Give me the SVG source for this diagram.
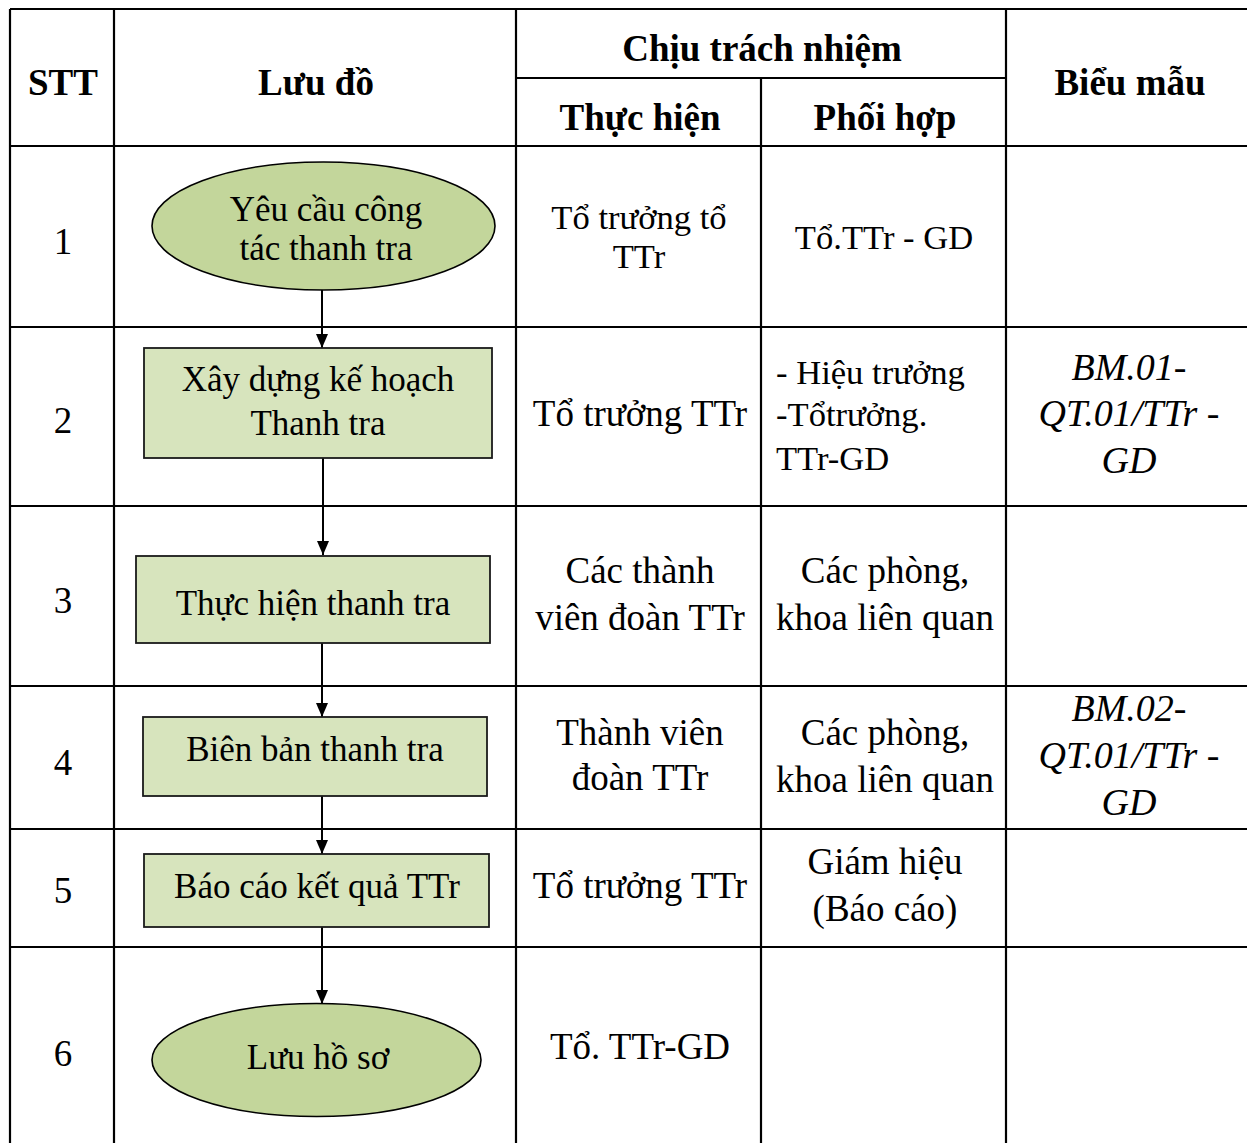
<svg xmlns="http://www.w3.org/2000/svg" width="1247" height="1143" viewBox="0 0 1247 1143">
<style>
.grid{stroke:#000;stroke-width:2.2;fill:none}
.h{font-family:"Liberation Serif","Times New Roman",serif;font-weight:bold;font-size:37px;text-anchor:middle;fill:#000}
.t{font-family:"Liberation Serif","Times New Roman",serif;font-size:37px;text-anchor:middle;fill:#000}
.f{font-size:35px}
.s{font-size:34.6px}
.l{text-anchor:start}
.i{font-style:italic;font-size:38px}
.ell{fill:#c3d69b;stroke:#000;stroke-width:1.6}
.box{fill:#d7e4bd;stroke:#1a1a1a;stroke-width:1.8}
.con{stroke:#000;stroke-width:2;fill:none;marker-end:url(#arr)}
</style>
<defs>
<marker id="arr" viewBox="0 0 14 12" refX="14" refY="6" markerWidth="14" markerHeight="12" markerUnits="userSpaceOnUse" orient="auto">
<path d="M0,0 L14,6 L0,12 Z" fill="#000"/>
</marker>
</defs>
<rect width="1247" height="1143" fill="#fff"/>
<g id="table">
<path class="grid" d="M10,9 H1247 M10,146 H1247 M516,78 H1006 M10,327 H1247 M10,506 H1247 M10,686 H1247 M10,829 H1247 M10,947 H1247 M10,9 V1143 M114,9 V1143 M516,9 V1143 M761,78 V1143 M1006,9 V1143"/>
<text class="h" x="63" y="95">STT</text>
<text class="h" x="316" y="95">Lưu đồ</text>
<text class="h" x="762" y="61">Chịu trách nhiệm</text>
<text class="h" x="640" y="130">Thực hiện</text>
<text class="h" x="885" y="130">Phối hợp</text>
<text class="h" x="1130" y="95">Biểu mẫu</text>
<text class="t" x="63" y="254">1</text>
<text class="t" x="63" y="433">2</text>
<text class="t" x="63" y="613">3</text>
<text class="t" x="63" y="775">4</text>
<text class="t" x="63" y="903">5</text>
<text class="t" x="63" y="1066">6</text>
<text class="t s" x="639" y="229">Tổ trưởng tổ</text>
<text class="t s" x="639" y="268">TTr</text>
<text class="t s" x="884" y="249">Tổ.TTr - GD</text>
<text class="t" x="640" y="426">Tổ trưởng TTr</text>
<text class="t l s" x="776" y="384">- Hiệu trưởng</text>
<text class="t l s" x="776" y="426">-Tổtrưởng.</text>
<text class="t l s" x="776" y="470">TTr-GD</text>
<text class="t i" x="1129" y="380">BM.01-</text>
<text class="t i" x="1129" y="426">QT.01/TTr -</text>
<text class="t i" x="1129" y="473">GD</text>
<text class="t" x="640" y="583">Các thành</text>
<text class="t" x="640" y="630">viên đoàn TTr</text>
<text class="t" x="885" y="583">Các phòng,</text>
<text class="t" x="885" y="630">khoa liên quan</text>
<text class="t" x="640" y="745">Thành viên</text>
<text class="t" x="640" y="790">đoàn TTr</text>
<text class="t" x="885" y="745">Các phòng,</text>
<text class="t" x="885" y="792">khoa liên quan</text>
<text class="t i" x="1129" y="721">BM.02-</text>
<text class="t i" x="1129" y="768">QT.01/TTr -</text>
<text class="t i" x="1129" y="815">GD</text>
<text class="t" x="640" y="898">Tổ trưởng TTr</text>
<text class="t" x="885" y="874">Giám hiệu</text>
<text class="t" x="885" y="921">(Báo cáo)</text>
<text class="t" x="640" y="1059">Tổ. TTr-GD</text>
</g>
<g id="connectors">
<path class="con" d="M322,290 V348"/>
<path class="con" d="M323,458 V555"/>
<path class="con" d="M322,643 V717"/>
<path class="con" d="M322,796 V854"/>
<path class="con" d="M322,927 V1004"/>
</g>
<g id="n1"><ellipse class="ell" cx="323.5" cy="226" rx="171.5" ry="64"/>
<text class="t f" x="326" y="221">Yêu cầu công</text><text class="t f" x="326" y="260">tác thanh tra</text></g>
<g id="n2"><rect class="box" x="144" y="348" width="348" height="110"/>
<text class="t f" x="318" y="391">Xây dựng kế hoạch</text><text class="t f" x="318" y="435">Thanh tra</text></g>
<g id="n3"><rect class="box" x="136" y="556" width="354" height="87"/>
<text class="t f" x="313" y="615">Thực hiện thanh tra</text></g>
<g id="n4"><rect class="box" x="143" y="717" width="344" height="79"/>
<text class="t f" x="315" y="761">Biên bản thanh tra</text></g>
<g id="n5"><rect class="box" x="144" y="854" width="345" height="73"/>
<text class="t f" x="317" y="898">Báo cáo kết quả TTr</text></g>
<g id="n6"><ellipse class="ell" cx="316.5" cy="1060" rx="164.5" ry="56.5"/>
<text class="t f" x="318" y="1069">Lưu hồ sơ</text></g>
</svg>
